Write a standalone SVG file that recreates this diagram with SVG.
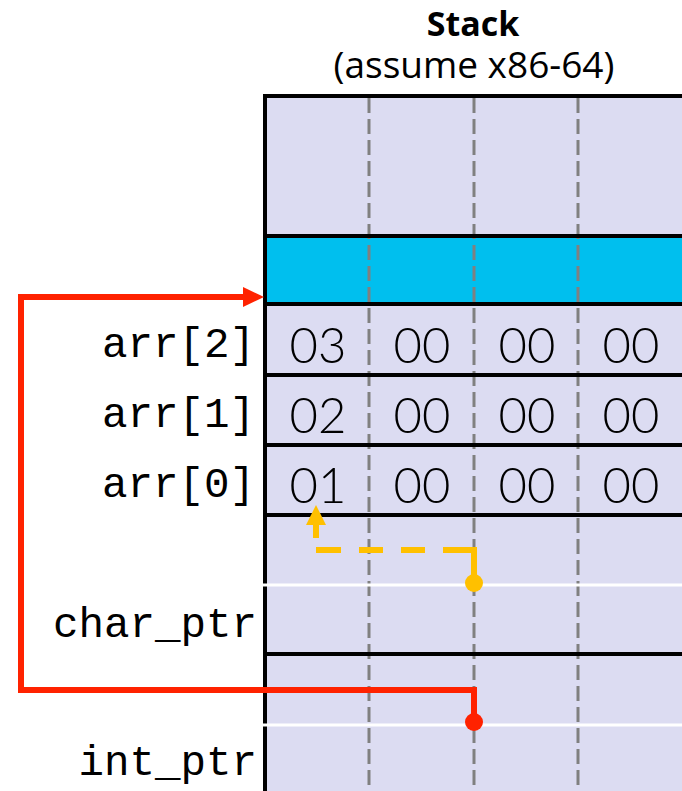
<svg xmlns="http://www.w3.org/2000/svg" width="682" height="791" viewBox="0 0 682 791">
<style>
.title{font-family:"Open Sans","Liberation Sans",sans-serif;fill:#000;text-anchor:middle}
.lbl{font-family:"Liberation Mono",monospace;font-size:42.5px;fill:#000;text-anchor:end}
.hex{font-family:Lato,"Liberation Sans",sans-serif;font-weight:300;font-size:49px;fill:#000;text-anchor:middle}
.row{stroke:#000;stroke-width:4}
.col{stroke:#808080;stroke-width:3;stroke-dasharray:15 6}
.white{stroke:#fff;stroke-width:3}
</style>
<rect width="682" height="791" fill="#fff"/>
<text class="title" x="473" y="36" font-size="34" font-weight="bold">Stack</text>
<text class="title" x="474" y="78" font-size="37">(assume x86-64)</text>

<g id="stack">
  <rect x="265" y="96" width="417" height="695" fill="#DCDCF2"/>
  <rect x="265" y="236" width="417" height="68" fill="#00BFEE"/>
  <line class="col" x1="369" y1="98" x2="369" y2="791"/>
  <line class="col" x1="474" y1="98" x2="474" y2="791"/>
  <line class="col" x1="578" y1="98" x2="578" y2="791"/>
  <line class="row" x1="263" y1="96" x2="682" y2="96"/>
  <line class="row" x1="263" y1="236" x2="682" y2="236"/>
  <line class="row" x1="263" y1="304" x2="682" y2="304"/>
  <line class="row" x1="263" y1="375" x2="682" y2="375"/>
  <line class="row" x1="263" y1="445" x2="682" y2="445"/>
  <line class="row" x1="263" y1="515" x2="682" y2="515"/>
  <line class="row" x1="263" y1="654" x2="682" y2="654"/>
  <line class="row" x1="265" y1="94" x2="265" y2="791"/>
  <line class="white" x1="262" y1="585" x2="682" y2="585"/>
  <line class="white" x1="262" y1="725" x2="682" y2="725"/>
</g>

<g id="arr2">
  <text class="lbl" x="255" y="357">arr[2]</text>
  <text class="hex" x="318" y="363">03</text>
  <text class="hex" x="422" y="363">00</text>
  <text class="hex" x="527" y="363">00</text>
  <text class="hex" x="631" y="363">00</text>
</g>
<g id="arr1">
  <text class="lbl" x="255" y="427">arr[1]</text>
  <text class="hex" x="318" y="433">02</text>
  <text class="hex" x="422" y="433">00</text>
  <text class="hex" x="527" y="433">00</text>
  <text class="hex" x="631" y="433">00</text>
</g>
<g id="arr0">
  <text class="lbl" x="255" y="497">arr[0]</text>
  <text class="hex" x="318" y="503">01</text>
  <text class="hex" x="422" y="503">00</text>
  <text class="hex" x="527" y="503">00</text>
  <text class="hex" x="631" y="503">00</text>
</g>
<g id="char_ptr">
  <text class="lbl" x="257" y="637">char_ptr</text>
</g>
<g id="int_ptr">
  <text class="lbl" x="257" y="775">int_ptr</text>
</g>

<g id="connectors">
  <path d="M474,722 V690 H21 V297 H246" fill="none" stroke="#FF2200" stroke-width="6" stroke-linejoin="miter"/>
  <polygon points="264,297 243,287 243,307" fill="#FF2200"/>
  <circle cx="474" cy="722" r="9" fill="#FF2200"/>
  <path d="M474,583 V550 H316 V525" fill="none" stroke="#FFC000" stroke-width="6" stroke-dasharray="64 18 24 18 24 18 25 12 13"/>
  <polygon points="316,505 306,525 326,525" fill="#FFC000"/>
  <circle cx="474" cy="583" r="9" fill="#FFC000"/>
</g>
</svg>
